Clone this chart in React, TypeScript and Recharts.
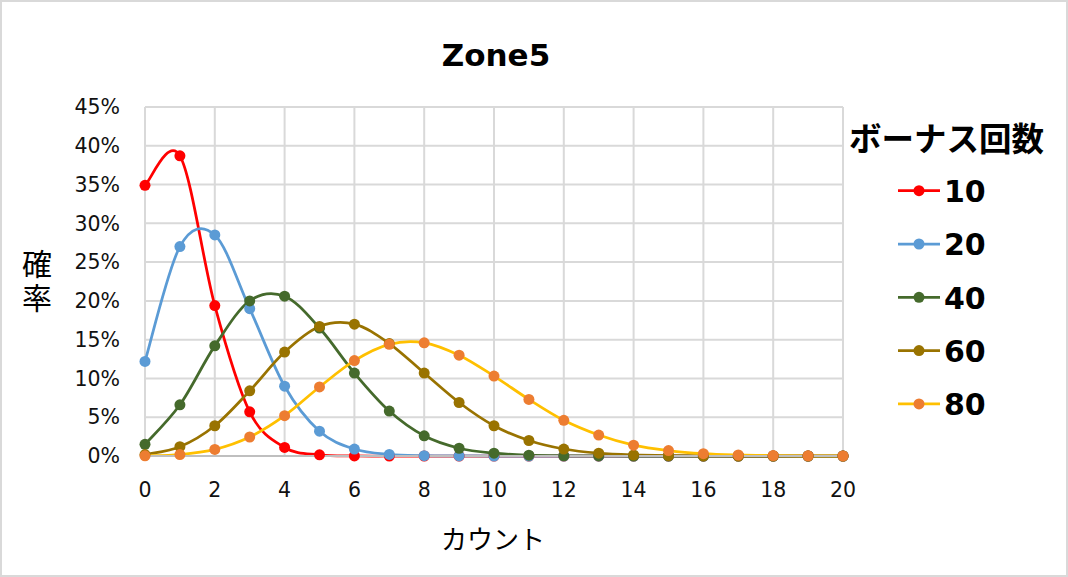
import React from 'react';
import { LineChart, Line, XAxis, YAxis, CartesianGrid } from 'recharts';

// count 0..20
const counts = [0, 1, 2, 3, 4, 5, 6, 7, 8, 9, 10, 11, 12, 13, 14, 15, 16, 17, 18, 19, 20];

// probability per bonus count
const bonus10 = [0.349, 0.387, 0.194, 0.057, 0.011, 0.0015, 0.0001, 0, 0, 0, 0, 0, 0, 0, 0, 0, 0, 0, 0, 0, 0];
const bonus20 = [0.122, 0.27, 0.285, 0.19, 0.09, 0.032, 0.009, 0.002, 0.0004, 0.0001, 0, 0, 0, 0, 0, 0, 0, 0, 0, 0, 0];
const bonus40 = [0.015, 0.066, 0.142, 0.2, 0.206, 0.165, 0.107, 0.058, 0.026, 0.01, 0.0036, 0.0011, 0.0003, 0.0001, 0, 0, 0, 0, 0, 0, 0];
const bonus60 = [0.0018, 0.012, 0.039, 0.084, 0.134, 0.167, 0.17, 0.145, 0.107, 0.069, 0.039, 0.02, 0.009, 0.0036, 0.0013, 0.0004, 0.0001, 0, 0, 0, 0];
const bonus80 = [0.0002, 0.0019, 0.0085, 0.0245, 0.052, 0.089, 0.123, 0.144, 0.146, 0.13, 0.103, 0.073, 0.046, 0.027, 0.014, 0.007, 0.003, 0.0013, 0.0005, 0.0002, 0.0001];

const xTicks = [0, 2, 4, 6, 8, 10, 12, 14, 16, 18, 20];
const yTicks = [0, 0.05, 0.1, 0.15, 0.2, 0.25, 0.3, 0.35, 0.4, 0.45];

const seriesNames = ['10', '20', '40', '60', '80'];
const seriesValues = [bonus10, bonus20, bonus40, bonus60, bonus80];
const lineColors = ['#FF0000', '#5B9BD5', '#456A2C', '#997300', '#FFC000'];
const dotColors = ['#FF0000', '#5B9BD5', '#456A2C', '#997300', '#ED7D31'];

const data = counts.map((x, i) => {
  const row: Record<string, number> = { x };
  seriesNames.forEach((name, s) => {
    row['s' + name] = seriesValues[s][i];
  });
  return row;
});

const FONT = '"DejaVu Sans", "Noto Sans CJK JP", sans-serif';
const JP_FONT = '"Noto Sans CJK JP", "DejaVu Sans", sans-serif';

// Excel-style smoothed line (Catmull-Rom through the points)
const excelSmooth = (context: any) => {
  let pts: number[][] = [];
  return {
    areaStart() {},
    areaEnd() {},
    lineStart() {
      pts = [];
    },
    point(x: number, y: number) {
      pts.push([+x, +y]);
    },
    lineEnd() {
      const n = pts.length;
      if (!n) return;
      context.moveTo(pts[0][0], pts[0][1]);
      for (let i = 0; i < n - 1; i++) {
        const p0 = pts[i - 1] || pts[i];
        const p1 = pts[i];
        const p2 = pts[i + 1];
        const p3 = pts[i + 2] || p2;
        context.bezierCurveTo(
          p1[0] + (p2[0] - p0[0]) / 6,
          p1[1] + (p2[1] - p0[1]) / 6,
          p2[0] - (p3[0] - p1[0]) / 6,
          p2[1] - (p3[1] - p1[1]) / 6,
          p2[0],
          p2[1]
        );
      }
    },
  };
};

export default function App() {
  return (
    <div
      style={{
        position: 'absolute',
        left: 0,
        top: 0,
        width: 1068,
        height: 577,
        boxSizing: 'border-box',
        border: '2px solid #d9d9d9',
        background: '#fff',
      }}
    >
      <div style={{ position: 'absolute', left: -2, top: -2 }}>
        <LineChart width={1068} height={577} data={data} margin={{ top: 107, right: 225, bottom: 81, left: 65 }}>
          <CartesianGrid stroke="#d9d9d9" strokeWidth={2} />
          <XAxis
            dataKey="x"
            type="number"
            domain={[0, 20]}
            ticks={xTicks}
            height={40}
            tickLine={false}
            tickSize={0}
            tickMargin={26}
            axisLine={{ stroke: '#bfbfbf', strokeWidth: 2 }}
            tick={{ fontFamily: FONT, fontSize: 20.5, fill: '#111' }}
          />
          <YAxis
            type="number"
            domain={[0, 0.45]}
            ticks={yTicks}
            width={80}
            tickLine={false}
            tickSize={0}
            tickMargin={25}
            axisLine={false}
            tickFormatter={(v: number) => Math.round(v * 100) + '%'}
            tick={{ fontFamily: FONT, fontSize: 20.5, fill: '#111' }}
          />
          {seriesNames.map((name, s) => (
            <Line
              key={name}
              dataKey={'s' + name}
              type={excelSmooth as any}
              stroke={lineColors[s]}
              strokeWidth={2.75}
              dot={{ r: 5.5, fill: dotColors[s], stroke: dotColors[s], strokeWidth: 0 }}
              activeDot={false}
              isAnimationActive={false}
            />
          ))}
        </LineChart>
        <svg width={1068} height={577} style={{ position: 'absolute', left: 0, top: 0, pointerEvents: 'none' }}>
          <text x={496} y={66} textAnchor="middle" fontFamily={FONT} fontWeight="bold" fontSize={31} fill="#000">
            Zone5
          </text>
          <text x={493} y={549} textAnchor="middle" fontFamily={JP_FONT} fontSize={26} fill="#000">
            カウント
          </text>
          <text
            x={37}
            y={249}
            fontFamily={JP_FONT}
            fontSize={30}
            fill="#000"
            style={{ writingMode: 'vertical-rl', letterSpacing: 4 }}
          >
            確率
          </text>
          <text x={849} y={151} fontFamily={JP_FONT} fontWeight="bold" fontSize={32.5} fill="#000">
            ボーナス回数
          </text>
          {seriesNames.map((name, s) => {
            const cy = 190.7 + s * 53.3;
            return (
              <g key={name}>
                <line x1={898} x2={940} y1={cy} y2={cy} stroke={lineColors[s]} strokeWidth={2.75} />
                <circle cx={919} cy={cy} r={5.5} fill={dotColors[s]} />
                <text x={944} y={cy + 11.3} fontFamily={FONT} fontWeight="bold" fontSize={30} fill="#000">
                  {name}
                </text>
              </g>
            );
          })}
        </svg>
      </div>
    </div>
  );
}
